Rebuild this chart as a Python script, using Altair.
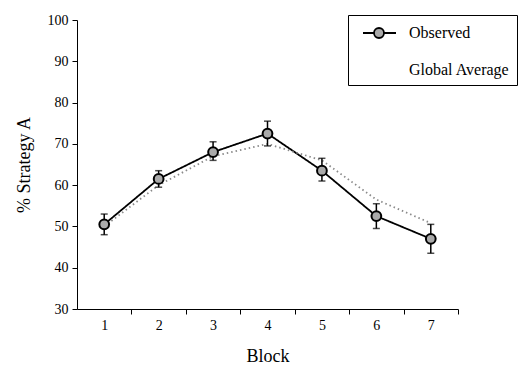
import altair as alt
import pandas as pd

blocks = [1, 2, 3, 4, 5, 6, 7]
observed = [50.5, 61.5, 68.0, 72.5, 63.5, 52.5, 47.0]
obs_low = [48.0, 59.5, 66.0, 69.5, 61.0, 49.5, 43.5]
obs_high = [53.0, 63.5, 70.5, 75.5, 66.5, 55.5, 50.5]
global_avg = [50.0, 60.0, 67.0, 70.0, 66.0, 56.5, 50.8]
series_names = ["Observed", "Global Average"]

lines = pd.DataFrame(
    {
        "block": blocks * 2,
        "value": observed + global_avg,
        "series": [series_names[0]] * 7 + [series_names[1]] * 7,
    }
)
obs = pd.DataFrame({"block": blocks, "value": observed, "low": obs_low, "high": obs_high})

FONT = "Liberation Serif"
W, H = 381, 289
half = W / 7 / 2

xscale = alt.Scale(domain=[0.5, 7.5], nice=False, zero=False)
yscale = alt.Scale(domain=[30, 100], nice=False, zero=False)

xaxis = alt.Axis(
    title="Block", values=blocks, format="d", tickOffset=half, labelOffset=-half, tickSize=5,
    grid=False, labelPadding=4, titlePadding=15, labelFontSize=14, titleFontSize=18,
    titleFontWeight="normal", labelFont=FONT, titleFont=FONT, domainColor="black",
    tickColor="black", labelColor="black", titleColor="black", labelFlush=False,
)
yaxis = alt.Axis(
    title="% Strategy A", values=[30, 40, 50, 60, 70, 80, 90, 100], format="d", tickSize=5,
    grid=False, labelPadding=4, titlePadding=14, labelFontSize=14, titleFontSize=18,
    titleFontWeight="normal", labelFont=FONT, titleFont=FONT, domainColor="black",
    tickColor="black", labelColor="black", titleColor="black",
)

# legend symbol: short line, circle, short line (unit = 10 px with symbolSize 400)
sym_path = ("M-0.3,0L0.8,0M1.8,0L3,0"
            "M0.8,0A0.5,0.5,0,1,1,1.8,0A0.5,0.5,0,1,1,0.8,0Z")
blank_path = "M0,0L0,0"

legend = alt.Legend(
    title=None, orient="none", legendX=271, legendY=-5,
    symbolSize=400, symbolOpacity=1, symbolStrokeWidth=1.8,
    labelFont=FONT, labelFontSize=16, labelColor="black", labelOffset=32,
    rowPadding=17, padding=7, strokeColor="black",
)

# color / dash scales use data-derived domains (alphabetical: Global Average, Observed)
line_layer = alt.Chart(lines).mark_line(strokeWidth=1.8).encode(
    x=alt.X("block:Q", scale=xscale, axis=xaxis),
    y=alt.Y("value:Q", scale=yscale, axis=yaxis),
    color=alt.Color("series:N", scale=alt.Scale(range=["#8a8a8a", "black"]), legend=None),
    strokeDash=alt.StrokeDash("series:N", scale=alt.Scale(range=[[1.5, 3], [1, 0]]), legend=None),
)

err = alt.Chart(obs).mark_rule(color="black", strokeWidth=1.5).encode(
    x="block:Q", y="low:Q", y2="high:Q"
)
cap_lo = alt.Chart(obs).mark_tick(color="black", thickness=1.5, size=7, orient="horizontal").encode(
    x="block:Q", y="low:Q"
)
cap_hi = alt.Chart(obs).mark_tick(color="black", thickness=1.5, size=7, orient="horizontal").encode(
    x="block:Q", y="high:Q"
)
pts = alt.Chart(obs).mark_point(
    shape="circle", size=95, filled=True, fill="#aaaaaa", stroke="black", strokeWidth=2, opacity=1
).encode(x="block:Q", y="value:Q")

legend_layer = alt.Chart(lines).mark_point(
    filled=True, fill="#aaaaaa", stroke="black", strokeWidth=1.8, opacity=0, size=1
).encode(
    x="block:Q", y="value:Q",
    shape=alt.Shape("series:N", scale=alt.Scale(domain=series_names, range=[sym_path, blank_path]), legend=legend),
)

chart = alt.layer(line_layer, err, cap_lo, cap_hi, pts, legend_layer).properties(
    width=W, height=H,
    autosize=alt.AutoSizeParams(type="none"),
    padding={"left": 77, "top": 20, "right": 73, "bottom": 57},
).configure_view(stroke=None)

chart.save("out.html", embed_options={"renderer": "svg", "actions": False})
